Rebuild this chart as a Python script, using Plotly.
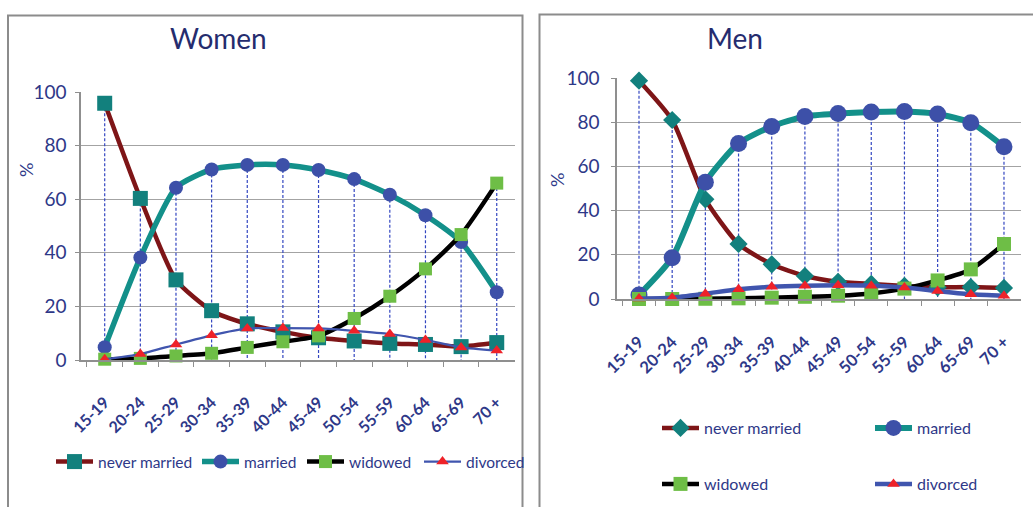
import plotly.graph_objects as go

W, H = 1033, 507

age_groups = ["15-19", "20-24", "25-29", "30-34", "35-39", "40-44",
              "45-49", "50-54", "55-59", "60-64", "65-69", "70 +"]

women_never_married = [95.8, 60.3, 29.9, 18.4, 13.5, 10.5, 8.3, 7.1, 6.2, 5.8, 5.0, 6.5]
women_married = [4.8, 38.2, 64.3, 71.1, 72.8, 72.8, 70.9, 67.5, 61.7, 54.0, 44.0, 25.3]
women_widowed = [0.3, 0.6, 1.5, 2.5, 4.7, 6.8, 9.0, 15.5, 23.8, 34.0, 46.8, 66.0]
women_divorced = [0.3, 2.2, 5.8, 9.2, 11.8, 11.9, 11.8, 10.9, 9.7, 7.5, 4.7, 3.5]

men_never_married = [98.8, 81.0, 45.1, 24.9, 15.7, 10.4, 7.8, 6.8, 5.9, 5.3, 5.4, 5.0]
men_married = [1.8, 18.7, 52.8, 70.4, 78.1, 82.6, 83.9, 84.6, 84.8, 83.7, 79.8, 68.9]
men_widowed = [0.0, 0.0, 0.1, 0.3, 0.6, 1.0, 1.5, 2.5, 4.7, 8.4, 13.4, 24.9]
men_divorced = [0.2, 0.6, 2.4, 4.4, 5.5, 6.0, 6.2, 6.0, 5.2, 3.6, 2.1, 1.5]

y_ticks = [0, 20, 40, 60, 80, 100]
series_names = ["never married", "married", "widowed", "divorced"]

FONT = "Lato, Carlito, 'Open Sans', sans-serif"
NAVY = "#2E3888"
TITLE_NAVY = "#252C6E"
DARKRED = "#7E1517"
TEAL = "#13908A"
TEAL_MK = "#12807D"
BLUE_MK = "#3D50A8"
GREEN_MK = "#6EBE46"
RED_MK = "#EE2229"
DIV_LINE = "#4055AE"
DROP = "#3346C0"
GRID = "#A3A3A3"

fig = go.Figure()


def px_x(p):
    return p / W


def px_y(p):
    return 1 - p / H


def add_panel(xa, ya, never, married, widowed, divorced, legends, cfg):
    # drop lines from the highest point down to the axis
    dx, dy = [], []
    for i, cat in enumerate(age_groups):
        top = max(never[i], married[i], widowed[i], divorced[i])
        dx += [cat, cat, None]
        dy += [top, 0, None]
    fig.add_trace(go.Scatter(x=dx, y=dy, mode="lines", xaxis=xa, yaxis=ya,
                             line=dict(color=DROP, width=1.2, dash="3px,2px"),
                             showlegend=False, hoverinfo="skip", cliponaxis=False))
    specs = [
        (never, DARKRED, cfg["nm_w"], cfg["nm_sym"], TEAL_MK, cfg["nm_size"]),
        (married, TEAL, cfg["m_w"], "circle", BLUE_MK, cfg["m_size"]),
        (widowed, "#000000", cfg["w_w"], "square", GREEN_MK, cfg["w_size"]),
        (divorced, DIV_LINE, cfg["d_w"], "triangle-up", RED_MK, cfg["d_size"]),
    ]
    for k, (vals, lc, lw, sym, mc, ms) in enumerate(specs):
        fig.add_trace(go.Scatter(
            x=age_groups, y=vals, mode="lines+markers", name=series_names[k],
            xaxis=xa, yaxis=ya, legend=legends[k], cliponaxis=False,
            line=dict(color=lc, width=lw, shape="spline", smoothing=0.6),
            marker=dict(symbol=sym, color=mc, size=ms, line=dict(width=0)),
        ))


add_panel("x", "y", women_never_married, women_married, women_widowed, women_divorced,
          ["legend", "legend2", "legend3", "legend4"],
          dict(nm_w=4.5, nm_sym="square", nm_size=15, m_w=5.5, m_size=14,
               w_w=4.5, w_size=13, d_w=2.2, d_size=11))
add_panel("x2", "y2", men_never_married, men_married, men_widowed, men_divorced,
          ["legend5", "legend6", "legend7", "legend8"],
          dict(nm_w=4.5, nm_sym="diamond", nm_size=14, m_w=6, m_size=17,
               w_w=4.5, w_size=14, d_w=4.5, d_size=11))

# axis geometry
w_left, w_first, w_step, w_right = 81, 104.7, 35.64, 514.5
m_left, m_first, m_step, m_right = 617, 639, 33.18, 1020.5


def xaxis_cfg(left, first, step, right, size, standoff):
    return dict(
        domain=[px_x(left), px_x(right)],
        range=[(left - first) / step, (right - first) / step],
        type="category", showgrid=False, zeroline=False,
        showline=True, linecolor="#8F8F8F", linewidth=1.5,
        ticks="outside", tickson="boundaries", ticklen=5, tickcolor="#8F8F8F",
        tickwidth=1.3, tickangle=-45, ticklabelstandoff=standoff,
        tickfont=dict(family=FONT, size=size, color=NAVY, weight="bold"),
        fixedrange=True, automargin=False,
    )


def yaxis_cfg(bottom, top, anchor, standoff):
    return dict(
        domain=[px_y(bottom), px_y(top)], range=[0, 100],
        tickvals=y_ticks, showgrid=True, gridcolor=GRID, gridwidth=1.3,
        zeroline=False, showline=True, linecolor="#8F8F8F", linewidth=1.5,
        ticks="outside", ticklen=4, tickcolor="#8F8F8F", ticklabelstandoff=standoff,
        tickfont=dict(family=FONT, size=19, color=NAVY),
        anchor=anchor, fixedrange=True, automargin=False,
    )


def legend_cfg(marker_x, y_mid, size):
    return dict(orientation="h", x=px_x(marker_x - 21), xanchor="left",
                y=px_y(y_mid), yanchor="middle", itemwidth=37,
                font=dict(family=FONT, size=size, color=NAVY),
                bgcolor="rgba(0,0,0,0)", itemclick=False, itemdoubleclick=False)


fig.update_layout(
    width=W, height=H,
    margin=dict(l=0, r=0, t=0, b=0, autoexpand=False),
    paper_bgcolor="white", plot_bgcolor="white",
    font=dict(family=FONT, color=NAVY),
    xaxis=dict(xaxis_cfg(w_left, w_first, w_step, w_right, 16, 25), anchor="y"),
    yaxis=yaxis_cfg(360, 92, "x", 5),
    xaxis2=dict(xaxis_cfg(m_left, m_first, m_step, m_right, 16.5, 25), anchor="y2"),
    yaxis2=yaxis_cfg(299, 78, "x2", 8),
    legend=legend_cfg(72, 462, 15.5),
    legend2=legend_cfg(218, 462, 15.5),
    legend3=legend_cfg(323, 462, 15.5),
    legend4=legend_cfg(440, 462, 15.5),
    legend5=legend_cfg(678, 428, 16),
    legend6=legend_cfg(891, 428, 16),
    legend7=legend_cfg(678, 484, 16),
    legend8=legend_cfg(891, 484, 16),
    showlegend=True,
    hovermode=False,
)

# panel frames
fig.add_shape(type="rect", xref="paper", yref="paper",
              x0=px_x(8), x1=px_x(522.5), y0=-0.05, y1=px_y(15.5),
              line=dict(color="#8C8C8C", width=2), layer="below")
fig.add_shape(type="rect", xref="paper", yref="paper",
              x0=px_x(539.5), x1=1.05, y0=-0.05, y1=px_y(14.5),
              line=dict(color="#8C8C8C", width=2), layer="below")

# titles and axis titles
for txt, xp, yp, size, ang, col in [("Women", 218, 38, 28, 0, TITLE_NAVY),
                                    ("Men", 735, 38, 28, 0, TITLE_NAVY),
                                    ("%", 26, 170, 18, -90, NAVY),
                                    ("%", 557, 180, 18, -90, NAVY)]:
    fig.add_annotation(text=txt, x=px_x(xp), y=px_y(yp), xref="paper", yref="paper",
                       xanchor="center", yanchor="middle", showarrow=False, textangle=ang,
                       font=dict(family=FONT, size=size, color=col))

fig.write_html("out.html", config={"displayModeBar": False},
               post_script="document.body.style.margin='0';")
